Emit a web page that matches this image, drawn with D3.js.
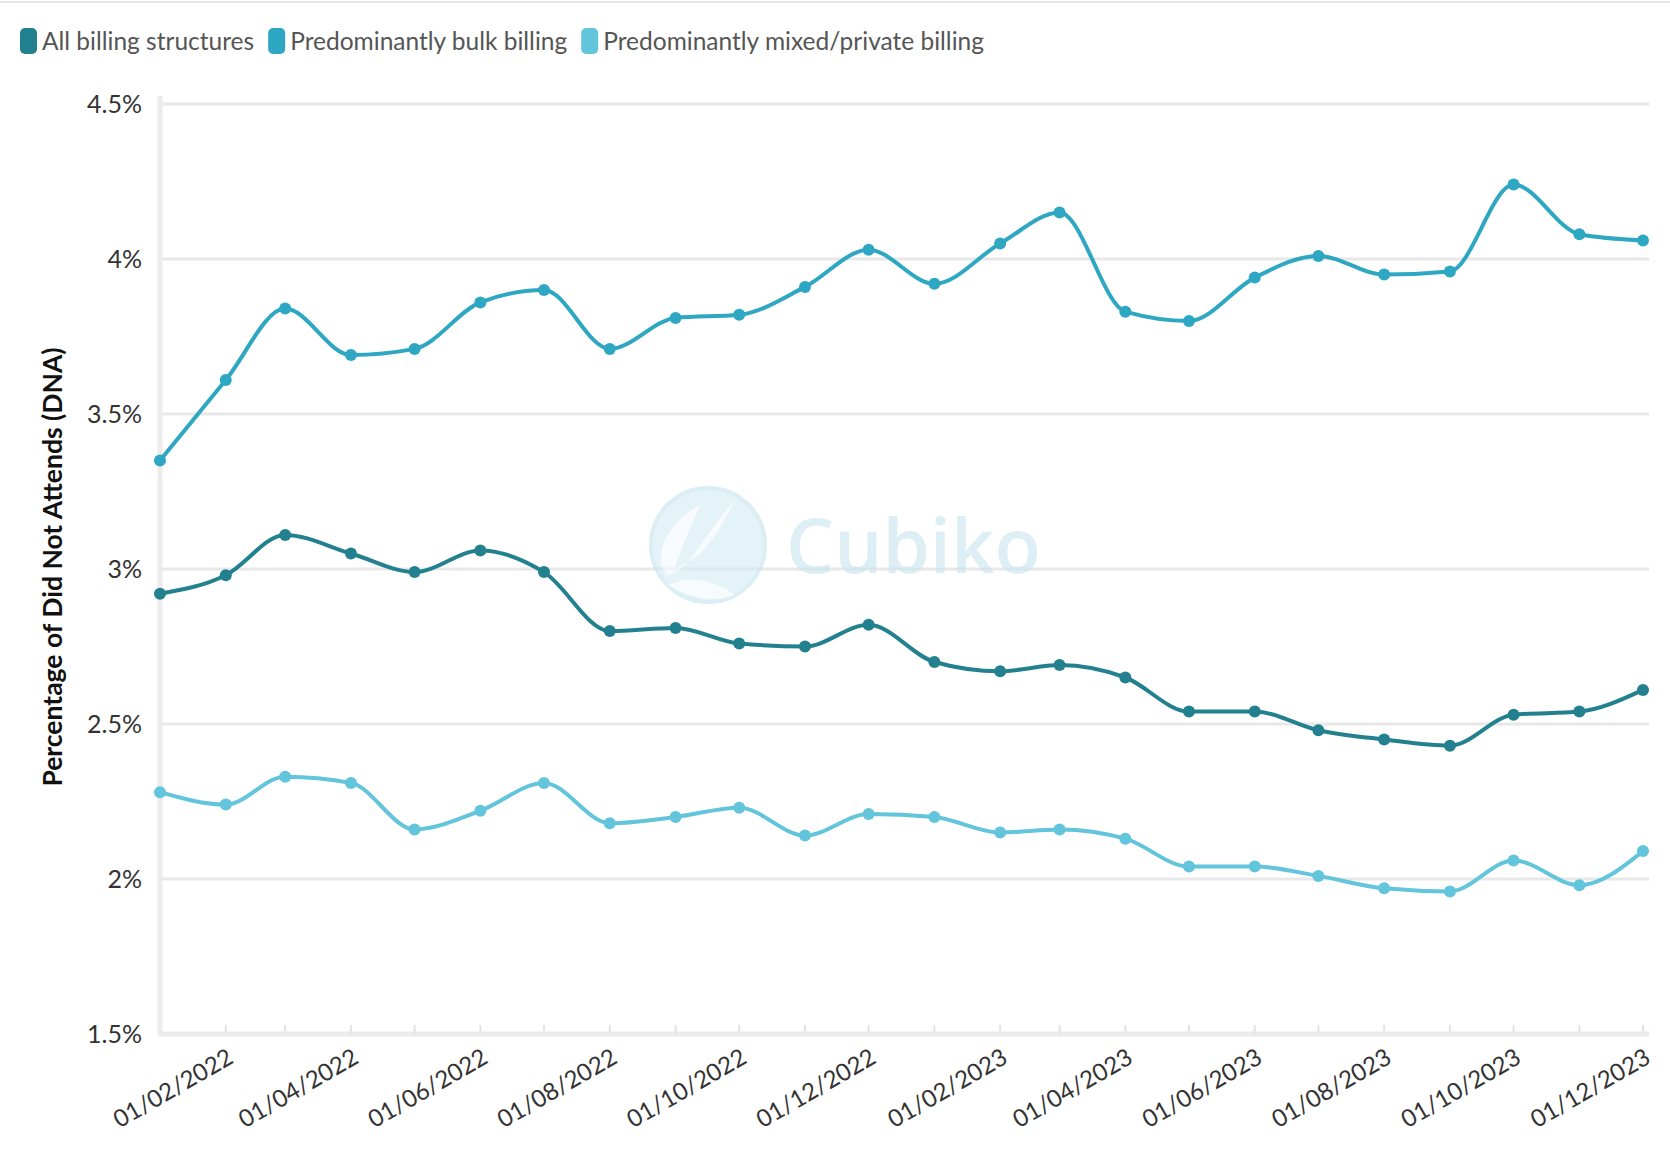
<!DOCTYPE html>
<html>
<head>
<meta charset="utf-8">
<script src="https://cdn.jsdelivr.net/npm/d3@7"></script>
<style>
  body { margin: 0; background: #fff; }
  svg { display: block; }
</style>
</head>
<body>
<div id="chart"></div>
<script>
// Data (percent of appointments marked Did Not Attend), monthly Jan 2022 - Dec 2023
var months = ['2022-01','2022-02','2022-03','2022-04','2022-05','2022-06','2022-07','2022-08','2022-09','2022-10','2022-11','2022-12',
              '2023-01','2023-02','2023-03','2023-04','2023-05','2023-06','2023-07','2023-08','2023-09','2023-10','2023-11','2023-12']

var allBilling = [2.92, 2.98, 3.11, 3.05, 2.99, 3.06, 2.99, 2.80, 2.81, 2.76, 2.75, 2.82,
                  2.70, 2.67, 2.69, 2.65, 2.54, 2.54, 2.48, 2.45, 2.43, 2.53, 2.54, 2.61]
var bulkBilling = [3.35, 3.61, 3.84, 3.69, 3.71, 3.86, 3.90, 3.71, 3.81, 3.82, 3.91, 4.03,
                   3.92, 4.05, 4.15, 3.83, 3.80, 3.94, 4.01, 3.95, 3.96, 4.24, 4.08, 4.06]
var mixedBilling = [2.28, 2.24, 2.33, 2.31, 2.16, 2.22, 2.31, 2.18, 2.20, 2.23, 2.14, 2.21,
                    2.20, 2.15, 2.16, 2.13, 2.04, 2.04, 2.01, 1.97, 1.96, 2.06, 1.98, 2.09]

var seriesNames = ['All billing structures', 'Predominantly bulk billing', 'Predominantly mixed/private billing']
var seriesColors = ['#23808f', '#2ea7c2', '#62c5db']
var yTicks = [1.5, 2, 2.5, 3, 3.5, 4, 4.5]

// Settings
var settings = {}
settings.width = 1670
settings.height = 1153
settings.left = 160
settings.right = 1643
settings.top = 104
settings.bottom = 1034
settings.font = 'Lato, "Open Sans", sans-serif'

var parseMonth = d3.timeParse('%Y-%m')
var dates = months.map(parseMonth)
var series = [allBilling, bulkBilling, mixedBilling].map(function(vals, i){
  return {
    name: seriesNames[i],
    color: seriesColors[i],
    values: vals.map(function(v, j){ return {date: dates[j], value: v} })
  }
})

var svg = d3.select('#chart').append('svg')
  .attr('width', settings.width)
  .attr('height', settings.height)

var x = d3.scaleTime()
  .domain(d3.extent(dates))
  .range([settings.left, settings.right])

var y = d3.scaleLinear()
  .domain([1.5, 4.5])
  .range([settings.bottom, settings.top])

// Thin line at the very top (cut-off header)
svg.append('line')
  .attr('x1', 0).attr('x2', settings.width)
  .attr('y1', 2).attr('y2', 2)
  .attr('stroke', '#dcdcdc')
  .attr('stroke-width', 1.5)

// Legend
var legend = svg.append('g').attr('transform', 'translate(20,41)')
var lx = 0
series.forEach(function(s){
  var g = legend.append('g').attr('transform', 'translate(' + lx + ',0)')
  g.append('rect')
    .attr('x', 0).attr('y', -13)
    .attr('width', 17).attr('height', 26)
    .attr('rx', 5)
    .attr('fill', s.color)
  var t = g.append('text')
    .attr('x', 22).attr('y', 9)
    .attr('font-family', settings.font)
    .attr('font-size', 24.5)
    .attr('fill', '#555')
    .text(s.name)
  lx += 22 + t.node().getComputedTextLength() + 14
})

// Gridlines
svg.append('g')
  .selectAll('line')
  .data(yTicks.filter(function(d){ return d > 1.5 }))
  .join('line')
  .attr('x1', settings.left).attr('x2', settings.right + 6)
  .attr('y1', function(d){ return y(d) }).attr('y2', function(d){ return y(d) })
  .attr('stroke', '#e8e8e8')
  .attr('stroke-width', 3)

// Y axis
var yAxis = svg.append('g')
  .attr('transform', 'translate(' + settings.left + ',0)')
  .call(d3.axisLeft(y).tickValues(yTicks).tickSize(0).tickPadding(18)
    .tickFormat(function(d){ return d + '%' }))
yAxis.select('.domain').remove()
yAxis.selectAll('text')
  .attr('font-family', settings.font)
  .attr('font-size', 25)
  .attr('fill', '#333')
  .attr('dy', '0.35em')

svg.append('line')
  .attr('x1', settings.left).attr('x2', settings.left)
  .attr('y1', settings.top - 8).attr('y2', settings.bottom + 2)
  .attr('stroke', '#ececec')
  .attr('stroke-width', 5)

// Y axis title
svg.append('text')
  .attr('transform', 'translate(62,567) rotate(-90)')
  .attr('text-anchor', 'middle')
  .attr('font-family', settings.font)
  .attr('font-weight', 'bold')
  .attr('font-size', 26.5)
  .attr('fill', '#111')
  .text('Percentage of Did Not Attends (DNA)')

// X axis
var xAxis = svg.append('g')
  .attr('transform', 'translate(0,' + settings.bottom + ')')
  .call(d3.axisBottom(x).tickValues(dates).tickSize(0).tickFormat(''))
xAxis.select('.domain').remove()

svg.append('line')
  .attr('x1', settings.left - 2).attr('x2', settings.right + 6)
  .attr('y1', settings.bottom).attr('y2', settings.bottom)
  .attr('stroke', '#ececec')
  .attr('stroke-width', 5)

svg.append('g')
  .selectAll('line')
  .data(dates.slice(1))
  .join('line')
  .attr('x1', function(d){ return x(d) }).attr('x2', function(d){ return x(d) })
  .attr('y1', settings.bottom - 9).attr('y2', settings.bottom)
  .attr('stroke', '#e4e4e4')
  .attr('stroke-width', 2)

var labelDates = dates.filter(function(d){ return d.getMonth() % 2 === 1 })
svg.append('g')
  .selectAll('text')
  .data(labelDates)
  .join('text')
  .attr('transform', function(d){ return 'translate(' + (x(d) + 9) + ',' + (settings.bottom + 28) + ') rotate(-30)' })
  .attr('text-anchor', 'end')
  .attr('font-family', settings.font)
  .attr('font-size', 24)
  .attr('fill', '#333')
  .text(d3.timeFormat('%d/%m/%Y'))

// Watermark
var wm = svg.append('g').attr('opacity', 0.6)
wm.append('circle')
  .attr('cx', 708).attr('cy', 545).attr('r', 57)
  .attr('fill', '#d3ecf3')
  .attr('stroke', '#c3e4ee')
  .attr('stroke-width', 4)
wm.append('path')
  .attr('d', 'M 735 500 C 700 540 690 570 668 575 C 650 560 668 520 700 505 C 690 530 680 550 675 568 C 700 560 715 540 735 500 Z')
  .attr('fill', '#ffffff')
  .attr('opacity', 0.7)
wm.append('path')
  .attr('d', 'M 668 585 C 690 575 715 580 735 595 C 712 603 690 598 668 585 Z')
  .attr('fill', '#ffffff')
  .attr('opacity', 0.7)
wm.append('text')
  .attr('x', 786).attr('y', 573)
  .attr('font-family', '"Open Sans", sans-serif')
  .attr('font-size', 76)
  .attr('font-weight', 600)
  .attr('fill', '#c8e6ef')
  .text('Cubiko')

// Lines and markers
var line = d3.line()
  .x(function(d){ return x(d.date) })
  .y(function(d){ return y(d.value) })
  .curve(d3.curveMonotoneX)

series.forEach(function(s){
  svg.append('path')
    .datum(s.values)
    .attr('d', line)
    .attr('fill', 'none')
    .attr('stroke', s.color)
    .attr('stroke-width', 4)
    .attr('stroke-linejoin', 'round')

  svg.append('g')
    .selectAll('circle')
    .data(s.values)
    .join('circle')
    .attr('cx', function(d){ return x(d.date) })
    .attr('cy', function(d){ return y(d.value) })
    .attr('r', 6)
    .attr('fill', s.color)
})
</script>
</body>
</html>
